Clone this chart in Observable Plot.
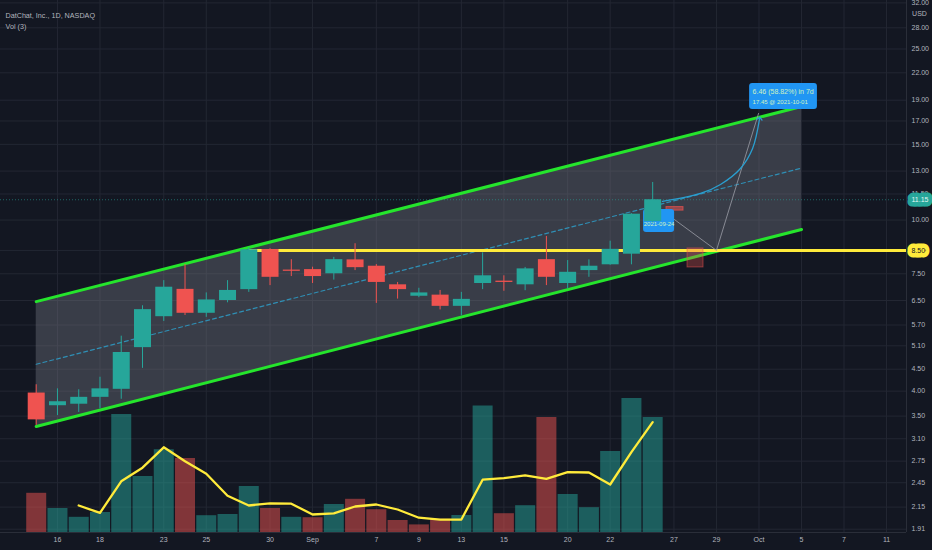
<!DOCTYPE html>
<html><head><meta charset="utf-8">
<script src="https://cdn.jsdelivr.net/npm/d3@7"></script>
<script src="https://cdn.jsdelivr.net/npm/@observablehq/plot@0.6"></script>
<style>
html,body{margin:0;padding:0;background:#131722;}
#wrap{position:relative;width:932px;height:550px;overflow:hidden;background:#131722;}
#wrap svg{position:absolute;left:0;top:0;}
</style></head><body><div id="wrap"></div>
<script>
// ---------- data ----------
const days = ["2021-08-13","2021-08-16","2021-08-17","2021-08-18","2021-08-19","2021-08-20",
  "2021-08-23","2021-08-24","2021-08-25","2021-08-26","2021-08-27",
  "2021-08-30","2021-08-31","2021-09-01","2021-09-02","2021-09-03",
  "2021-09-07","2021-09-08","2021-09-09","2021-09-10",
  "2021-09-13","2021-09-14","2021-09-15","2021-09-16","2021-09-17",
  "2021-09-20","2021-09-21","2021-09-22","2021-09-23","2021-09-24",
  "2021-09-27","2021-09-28","2021-09-29","2021-09-30","2021-10-01",
  "2021-10-04","2021-10-05","2021-10-06","2021-10-07","2021-10-08",
  "2021-10-11","2021-10-12"];
const candleDays = days.slice(0, 30);
const open  = [3.96,3.70,3.73,3.87,4.04,5.05,5.96,6.90,6.07,6.50,6.89,8.54,7.65,7.67,7.50,8.08,7.81,7.07,6.65,6.69,6.30,7.12,7.21,7.07,8.09,7.12,7.63,7.87,8.33,9.92];
const high  = [4.14,4.05,4.03,4.31,5.37,6.32,7.23,7.88,6.77,7.23,8.62,8.58,8.09,7.77,8.19,8.81,7.88,7.16,6.94,6.86,6.79,8.39,7.42,7.76,9.16,8.05,8.08,8.93,10.35,12.23];
const low   = [3.33,3.51,3.57,3.64,3.83,4.52,5.81,6.00,5.94,6.42,6.79,7.04,7.39,7.12,7.25,7.63,6.40,6.55,6.60,6.18,5.99,6.89,6.83,6.85,7.04,6.92,7.36,7.85,7.87,9.85];
const close = [3.43,3.78,3.87,4.05,4.92,6.19,6.98,6.07,6.52,6.86,8.53,7.36,7.60,7.39,8.09,7.75,7.16,6.89,6.77,6.30,6.54,7.42,7.16,7.70,7.36,7.56,7.81,8.55,10.32,11.15];
// volume (millions) and whether the bar is drawn as "up"
const volume = [9.8,6.0,3.8,5.0,29.5,14.0,20.7,18.5,4.2,4.5,11.5,6.0,3.8,3.7,7.0,8.3,5.7,3.0,1.9,3.3,4.25,31.6,4.7,6.7,28.75,9.5,6.2,20.25,33.5,28.75];
const volumeUp = [0,1,1,1,1,1,1,0,1,1,1,0,1,0,1,0,0,0,0,0,1,1,0,1,0,1,1,1,1,1];
// Vol (3) moving average, starting on 2021-08-17
const volMADays = days.slice(2, 30);
const volMA = [6.75,4.9,12.8,16.2,21.3,17.8,14.7,9.2,6.75,7.3,7.2,4.5,4.8,6.5,7.0,5.75,3.7,3.2,3.25,13.2,13.6,14.3,13.4,15.1,15.0,12.0,20.1,27.6];
// parallel channel
const channelDays = ["2021-08-13","2021-10-05"];
const channelUpper = [6.46, 18.37];
const channelMid = [4.62, 13.21];
const channelLower = [3.31, 9.51];
// horizontal level
const levelPrice = 8.50, levelFrom = "2021-08-27";
const lastPrice = 11.15;
// forecast drawing
const forecastCurveX = [29.46, 31.25, 32.19, 33.13, 33.70, 34.03];
const forecastCurveY = [11.05, 11.53, 12.10, 13.18, 14.67, 17.23];
const projPathX = [29.45, 32, 33.98];
const projPathY = [10.52, 8.50, 17.70];
const forecastText1 = "6.46 (58.82%) in 7d";
const forecastText2 = "17.45 @ 2021-10-01";
const sourceDateText = "2021-09-24";
// axis ticks
const xTickDays = ["2021-08-16","2021-08-18","2021-08-23","2021-08-25","2021-08-30","2021-09-01","2021-09-07","2021-09-09","2021-09-13","2021-09-15","2021-09-20","2021-09-22","2021-09-27","2021-09-29","2021-10-01","2021-10-05","2021-10-07","2021-10-11"];
const xTickLabels = ["16","18","23","25","30","Sep","7","9","13","15","20","22","27","29","Oct","5","7","11"];
const yTicks = [32,28,25,22,19,17,15,13,11.5,10,8.5,7.5,6.5,5.7,5.1,4.5,4,3.5,3.1,2.75,2.45,2.15,1.91];

// ---------- build ----------
const idx = d => days.indexOf(d);
const candles = candleDays.map((d,k) => ({i: idx(d), o: open[k], h: high[k], l: low[k], c: close[k]}));
const vols = candleDays.map((d,k) => ({i: idx(d), v: volume[k], up: volumeUp[k]}));
const ma = volMADays.map((d,k) => ({i: idx(d), v: volMA[k]}));
const channel = channelDays.map((d,k) => ({i: idx(d), hi: channelUpper[k], mid: channelMid[k], lo: channelLower[k]}));
const curve = forecastCurveX.map((x,k) => ({x, y: forecastCurveY[k]}));
const proj = projPathX.map((x,k) => ({x, y: projPathY[k]}));
const xTicks = xTickDays.map(idx);

const TEAL = "#26a69a", RED = "#ef5350", GREEN = "#25e52c", YELLOW = "#ffeb3b", BLUE = "#2196f3";
const FONT = "'Liberation Sans Narrow','Liberation Sans',sans-serif";
const FS = 7;
const xDomain = [-1.68, 40.94];
const yDomain = [1.8765, 32.41];
const W = 932, H = 550;
const common = {width: W, height: H, marginLeft: 0, marginRight: 26, marginTop: 0, marginBottom: 18};

const price = Plot.plot({
  ...common,
  style: {background: "#131722", color: "#b2b5be", fontFamily: FONT, fontSize: FS + "px"},
  x: {type: "linear", domain: xDomain},
  y: {type: "log", domain: yDomain},
  color: {type: "identity"},
  marks: [
    Plot.gridX(xTicks, {stroke: "#232733", strokeOpacity: 1}),
    Plot.gridY(yTicks, {stroke: "#232733", strokeOpacity: 1}),
    Plot.areaY(channel, {x: "i", y1: "lo", y2: "hi", fill: "#787b86", fillOpacity: 0.38}),
    Plot.line(channel, {x: "i", y: "mid", stroke: "#2f8fb5", strokeWidth: 1.2, strokeDasharray: "4,3"}),
    Plot.line(channel, {x: "i", y: "hi", stroke: GREEN, strokeWidth: 3}),
    Plot.line(channel, {x: "i", y: "lo", stroke: GREEN, strokeWidth: 3}),
    Plot.ruleY([lastPrice], {stroke: TEAL, strokeOpacity: 0.55, strokeDasharray: "1,2"}),
    Plot.ruleY([levelPrice], {x1: idx(levelFrom), x2: xDomain[1], stroke: YELLOW, strokeWidth: 3}),
    Plot.line(proj, {x: "x", y: "y", stroke: "#9598a1", strokeWidth: 1, strokeOpacity: 0.85}),
    Plot.line(curve, {x: "x", y: "y", stroke: "#2a9fd0", strokeWidth: 1.3, curve: "catmull-rom", markerEnd: "arrow"}),
    Plot.rect([0], {x1: 29.65, x2: 30.45, y1: 10.52, y2: 10.72, fill: RED, fillOpacity: 0.5, stroke: RED, strokeOpacity: 0.7}),
    Plot.rect([0], {x1: 30.64, x2: 31.39, y1: 7.76, y2: 8.59, fill: RED, fillOpacity: 0.3, stroke: RED, strokeOpacity: 0.5}),
    // forecast labels
    Plot.rect([0], {x1: 28.57, x2: 30.03, y1: 9.35, y2: 10.58, fill: BLUE, rx: 3}),
    Plot.text([sourceDateText], {x: 29.3, y: 9.78, text: d => d, fill: "#cdf2c0", fontSize: 6, fontFamily: FONT}),
    Plot.rect([0], {x1: 33.56, x2: 36.75, y1: 18.08, y2: 20.78, fill: BLUE, rx: 3}),
    Plot.text([forecastText1], {x: 33.70, y: 19.91, text: d => d, textAnchor: "start", fill: "#cdf2c0", fontSize: 7, fontFamily: FONT}),
    Plot.text([forecastText2], {x: 33.70, y: 18.77, text: d => d, textAnchor: "start", fill: "#cdf2c0", fontSize: 6, fontFamily: FONT}),
    // candles
    Plot.ruleX(candles, {x: "i", y1: "l", y2: "h", stroke: d => d.c >= d.o ? TEAL : RED, strokeWidth: 1}),
    Plot.ruleX(candles, {x: "i", y1: "o", y2: d => Math.abs(d.c - d.o) < 0.02 ? d.o * 0.996 : d.c, stroke: d => d.c >= d.o ? TEAL : RED, strokeWidth: 17}),
    // frame lines
    Plot.ruleX([xDomain[1]], {stroke: "#2a2e39"}),
    Plot.ruleY([yDomain[0]], {stroke: "#2a2e39"}),
    // axes
    Plot.axisX(xTicks, {anchor: "bottom", tickSize: 0, tickPadding: 5, label: null, tickFormat: i => xTickLabels[xTicks.indexOf(i)], fontFamily: FONT}),
    Plot.axisY(yTicks, {anchor: "right", tickSize: 0, tickPadding: 5, label: null, tickFormat: d => d.toFixed(2), fontFamily: FONT}),
    // price tags on the axis
    Plot.text([lastPrice], {x: () => xDomain[1], y: d => d, text: d => d.toFixed(2), dx: 5, textAnchor: "start", fill: "#e3f6f3", stroke: TEAL, strokeWidth: 9, strokeLinejoin: "round", paintOrder: "stroke", fontSize: FS, fontFamily: FONT}),
    Plot.text([levelPrice], {x: () => xDomain[1], y: d => d, text: d => d.toFixed(2), dx: 5, textAnchor: "start", fill: "#131722", stroke: YELLOW, strokeWidth: 9, strokeLinejoin: "round", paintOrder: "stroke", fontSize: FS, fontFamily: FONT}),
    Plot.text(["USD"], {frameAnchor: "top-right", dx: 13, dy: 11, textAnchor: "middle", fill: "#b2b5be", fontSize: FS, fontFamily: FONT}),
    // header
    Plot.text(["DatChat, Inc., 1D, NASDAQ"], {frameAnchor: "top-left", dx: 5, dy: 12, textAnchor: "start", fill: "#b2b5be", fontSize: 7.2, fontFamily: FONT}),
    Plot.text(["Vol (3)"], {frameAnchor: "top-left", dx: 5, dy: 23, textAnchor: "start", fill: "#b2b5be", fontSize: 7.2, fontFamily: FONT})
  ]
});

const vol = Plot.plot({
  ...common,
  style: {background: "transparent"},
  x: {type: "linear", domain: xDomain, axis: null},
  y: {type: "linear", domain: [0, 133], axis: null},
  color: {type: "identity"},
  marks: [
    Plot.ruleX(vols, {x: "i", y1: 0, y2: "v", stroke: d => d.up ? TEAL : RED, strokeOpacity: 0.5, strokeWidth: 20}),
    Plot.line(ma, {x: "i", y: "v", stroke: YELLOW, strokeWidth: 2.3})
  ]
});
vol.style.pointerEvents = "none";
const wrap = document.getElementById("wrap");
wrap.appendChild(price);
wrap.appendChild(vol);
</script></body></html>
